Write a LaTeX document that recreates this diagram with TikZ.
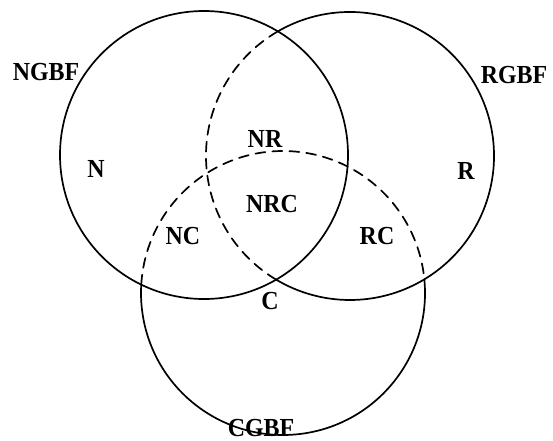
\documentclass[tikz,border=0pt]{standalone}
\usepackage{fontspec}
\setmainfont{Liberation Serif}[FakeStretch=0.92]
\usetikzlibrary{calc}

\begin{document}
\begin{tikzpicture}[line width=1.7pt, line cap=round, line join=round, x=1pt, y=-1pt,
    hidden/.style={dash pattern=on 10pt off 7pt},
    setlabel/.style={font=\fontsize{26}{28}\selectfont\bfseries, inner sep=0pt}]
  \useasboundingbox (0,0) rectangle (553,440);
  \coordinate (cn) at (204,155);                         % N set
  \coordinate (cr) at (350,156);                         % R set
  \coordinate (cc) at (283,293);                         % C set
  \draw (cn) circle[radius=144];
  \draw ($(cr)+(239.93:144)$) arc[start angle=239.93, end angle=480.86, radius=144];
  \draw[hidden] ($(cr)+(120.86:144)$) arc[start angle=120.86, end angle=239.93, radius=144];
  \draw ($(cc)+(-5.53:142)$) arc[start angle=-5.53, end angle=183.38, radius=142];
  \draw[hidden] ($(cc)+(183.38:142)$) arc[start angle=183.38, end angle=354.47, radius=142];
  \foreach \nm/\x/\y/\txt in {ngbf/46/72/NGBF, rgbf/514/75/RGBF, n/96/169/N, r/466/171/R,
      nr/265/139/NR, nrc/272/204/NRC, nc/183/236/NC, rc/377/236/RC, c/270/301/C, cgbf/261/428/CGBF} {
    \node[setlabel] (\nm) at (\x,\y) {\txt};
  }
\end{tikzpicture}
\end{document}
